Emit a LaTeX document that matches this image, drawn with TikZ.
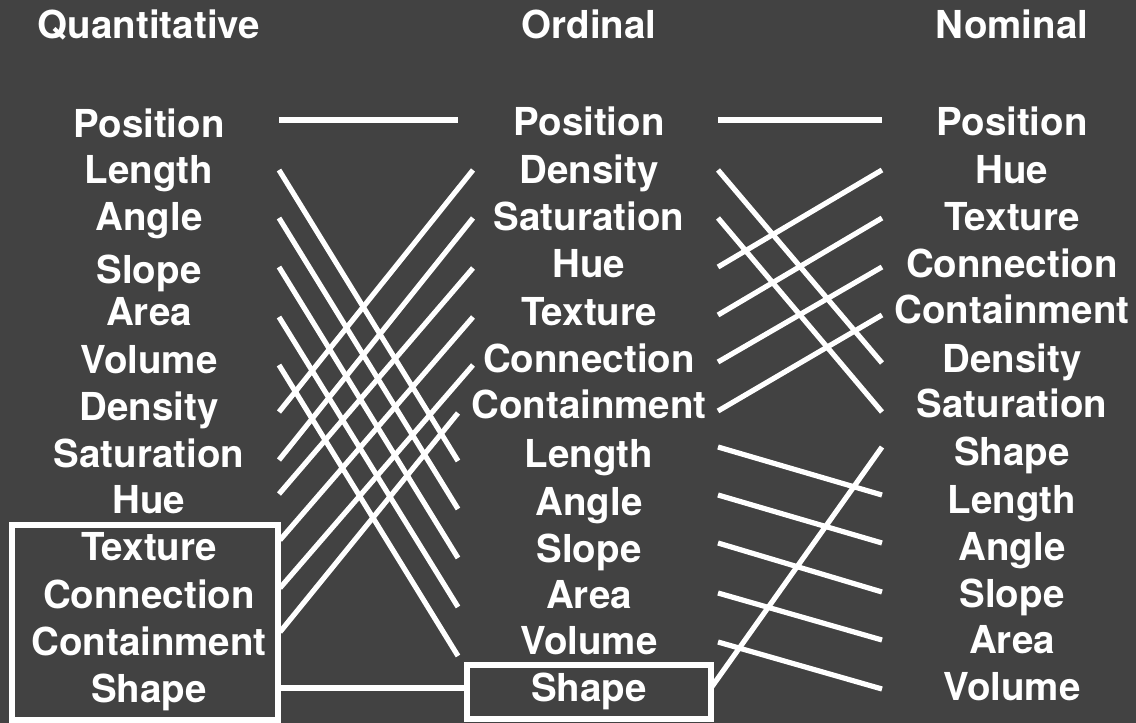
\documentclass[tikz,border=0pt]{standalone}
\usepackage{fontspec}
\setmainfont{TeX Gyre Heros}
\definecolor{bg}{HTML}{424242}
\begin{document}
\begin{tikzpicture}[x=1pt,y=-1pt,
  lab/.style={text=white,font=\fontsize{38.5}{40}\selectfont\bfseries,anchor=base,inner sep=0pt},
  wire/.style={draw=white,line width=5.2pt},
  frame/.style={draw=white,line width=5.2pt}]
\fill[bg] (0,0) rectangle (1136,723);
\useasboundingbox (0,0) rectangle (1136,723);
% titles
\node[lab] (tq) at (149,38) {Quantitative};
\node[lab] (to) at (589,38) {Ordinal};
\node[lab] (tn) at (1012,38) {Nominal};
% quantitative column
\foreach \n/\t/\y in {1/Position/137,2/Length/183,3/Angle/230,4/Slope/283,5/Area/325,6/Volume/373,7/Density/420,8/Saturation/467,9/Hue/513,10/Texture/560,11/Connection/608,12/Containment/655,13/Shape/702}
  \node[lab] (q\n) at (149,\y) {\t};
% ordinal column
\foreach \n/\t/\y in {1/Position/135,2/Density/183,3/Saturation/230,4/Hue/277,5/Texture/325,6/Connection/372,7/Containment/418,8/Length/467,9/Angle/515,10/Slope/562,11/Area/608,12/Volume/654,13/Shape/701}
  \node[lab] (o\n) at (589,\y) {\t};
% nominal column
\foreach \n/\t/\y in {1/Position/135,2/Hue/183,3/Texture/230,4/Connection/277,5/Containment/323,6/Density/372,7/Saturation/417,8/Shape/465,9/Length/513,10/Angle/560,11/Slope/607,12/Area/653,13/Volume/700}
  \node[lab] (n\n) at (1012,\y) {\t};
% boxes
\draw[frame] (12,525) rectangle (278,720);
\draw[frame] (467,665) rectangle (711,719);
\coordinate (qboxE) at (278,688);
\coordinate (oboxW) at (467,688);
\coordinate (oboxE) at (711,688);
% endpoints quantitative -> ordinal
\foreach \n/\y in {1/120,2/170,3/218,4/267,5/317,6/365,7/412,8/460,9/494}
  \coordinate (qa\n) at (279,\y);
\foreach \n/\y in {10/540,11/588,12/632}
  \coordinate (qa\n) at (280,\y);
\coordinate (ob1) at (458,120);
\coordinate (ob2) at (473,170);
\coordinate (ob3) at (473,218);
\coordinate (ob4) at (473,268);
\coordinate (ob5) at (473,317);
\coordinate (ob6) at (473,365);
\coordinate (ob7) at (458,413);
\coordinate (ob8) at (458,461);
\coordinate (ob9) at (458,509);
\coordinate (ob10) at (458,558);
\coordinate (ob11) at (458,607);
\coordinate (ob12) at (458,656);
\foreach \a/\b in {1/1,2/8,3/9,4/10,5/11,6/12,7/2,8/3,9/4,10/5,11/6,12/7}
  \draw[wire] (qa\a) -- (ob\b);
\draw[wire] (qboxE) -- (oboxW);
% endpoints ordinal -> nominal
\foreach \n/\y in {1/120,2/170,3/218,4/267,5/315,6/362,7/411,8/447,9/495,10/543,11/593,12/642}
  \coordinate (oa\n) at (718,\y);
\foreach \n/\y in {1/120,2/170,3/218,4/267,5/315,6/363,7/412,8/447,9/495,10/543,11/592,12/640,13/689}
  \coordinate (nb\n) at (882,\y);
\foreach \a/\b in {1/1,2/6,3/7,4/2,5/3,6/4,7/5,8/9,9/10,10/11,11/12,12/13}
  \draw[wire] (oa\a) -- (nb\b);
\draw[wire] (oboxE) -- (nb8);
\end{tikzpicture}
\end{document}
